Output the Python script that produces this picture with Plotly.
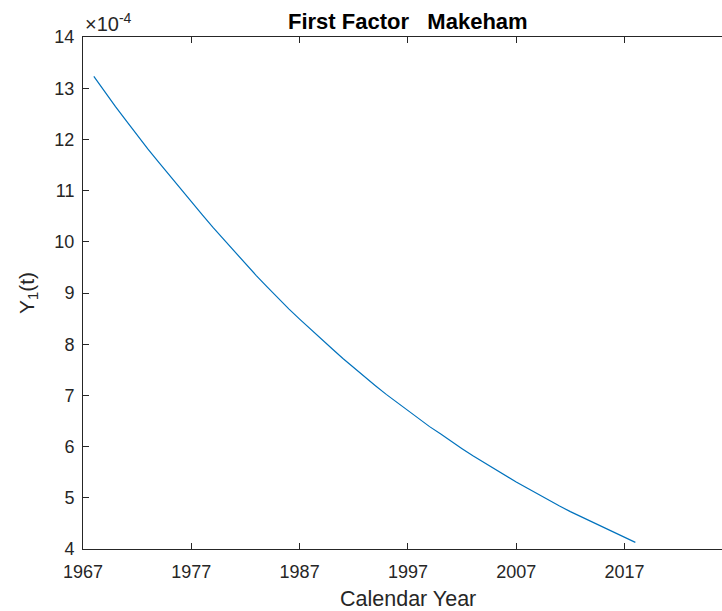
import plotly.graph_objects as go

years = list(range(1968, 2019))
# Y_1(t) values in units of 1e-4
y1 = [13.23, 12.93, 12.64, 12.36, 12.08, 11.81, 11.55, 11.29, 11.04, 10.79,
      10.53, 10.28, 10.04, 9.80, 9.57, 9.34, 9.12, 8.90, 8.69, 8.49,
      8.29, 8.10, 7.91, 7.72, 7.54, 7.37, 7.19, 7.02, 6.86, 6.70,
      6.55, 6.39, 6.25, 6.10, 5.96, 5.82, 5.69, 5.56, 5.43, 5.31,
      5.19, 5.07, 4.96, 4.84, 4.73, 4.63, 4.52, 4.42, 4.32, 4.22, 4.13]

x_ticks = [1967, 1977, 1987, 1997, 2007, 2017]
y_ticks = [4, 5, 6, 7, 8, 9, 10, 11, 12, 13, 14]

FONT = "Liberation Sans, Arial, Helvetica, sans-serif"
AX = "#262626"

fig = go.Figure()
fig.add_trace(go.Scatter(x=years, y=y1, mode="lines",
                         line=dict(color="#0072BD", width=1.2),
                         showlegend=False, hoverinfo="skip"))

fig.update_layout(
    width=722, height=611,
    margin=dict(l=83, r=0, t=37, b=62),
    paper_bgcolor="white", plot_bgcolor="white",
    font=dict(family=FONT, color=AX, size=18),
)
fig.update_xaxes(
    range=[1967, 2026], tickvals=x_ticks, ticktext=[str(v) for v in x_ticks],
    ticks="inside", ticklen=6, tickcolor=AX, tickwidth=1,
    showline=True, linecolor=AX, linewidth=1, mirror="ticks",
    showgrid=False, zeroline=False, ticklabelstandoff=6,
    tickfont=dict(size=18, color=AX, family=FONT),
)
fig.update_yaxes(
    range=[4, 14], tickvals=y_ticks, ticktext=[str(v) for v in y_ticks],
    ticks="inside", ticklen=6, tickcolor=AX, tickwidth=1,
    showline=True, linecolor=AX, linewidth=1, mirror=False,
    showgrid=False, zeroline=False, ticklabelstandoff=4,
    tickfont=dict(size=18, color=AX, family=FONT),
)

# Title
fig.add_annotation(text="<b>First Factor   Makeham</b>", xref="paper", yref="paper",
                   x=0.509, y=1, xanchor="center", yanchor="bottom", yshift=1,
                   showarrow=False, font=dict(size=22, color="black", family=FONT))
# Exponent label
fig.add_annotation(text="×10<sup>-4</sup>", xref="paper", yref="paper",
                   x=0, y=1, xanchor="left", yanchor="bottom", yshift=0, xshift=0,
                   showarrow=False, font=dict(size=20, color=AX, family=FONT))
# X axis title
fig.add_annotation(text="Calendar Year", xref="paper", yref="paper",
                   x=0.509, y=0, xanchor="center", yanchor="top", yshift=-36,
                   showarrow=False, font=dict(size=21.5, color=AX, family=FONT))
# Y axis title
fig.add_annotation(text="Y<sub>1</sub>(t)", xref="paper", yref="paper",
                   x=0, y=0.5, xanchor="right", yanchor="middle", xshift=-40,
                   textangle=-90,
                   showarrow=False, font=dict(size=21, color=AX, family=FONT))

fig.write_html("out.html")
